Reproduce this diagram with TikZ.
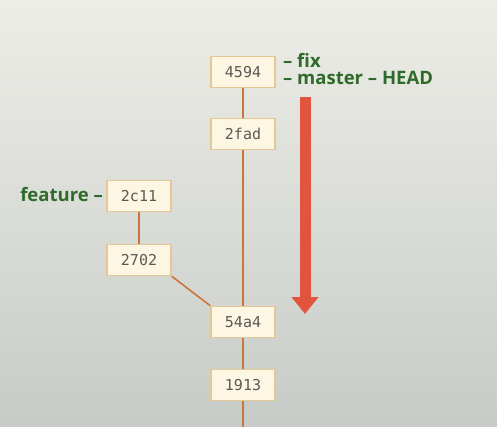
\documentclass[tikz,border=0pt]{standalone}
\usepackage{fontspec}
\setmainfont{Open Sans}
\newfontfamily\hashfont{DejaVu Sans Mono}
\usetikzlibrary{arrows.meta}

\definecolor{bgtop}{HTML}{EDEDE7}
\definecolor{bgbottom}{HTML}{C7CBC7}
\definecolor{boxfill}{HTML}{FDF6E3}
\definecolor{boxline}{HTML}{E3C795}
\definecolor{edgebrown}{HTML}{C8773A}
\definecolor{refgreen}{HTML}{2E6B2A}
\definecolor{arrowred}{HTML}{E1553E}
\definecolor{hashgrey}{HTML}{5A5A55}

\tikzset{
  commit/.style={rectangle, draw=boxline, fill=boxfill, line width=1.6pt,
    minimum width=64pt, minimum height=31pt, inner sep=0pt,
    font=\hashfont\fontsize{15}{17}\selectfont, text=hashgrey},
  branch/.style={font=\bfseries\fontsize{18.5}{20}\selectfont, text=refgreen, inner sep=0pt},
  parent/.style={line width=1.6pt, draw=edgebrown}
}

\begin{document}
\begin{tikzpicture}[x=1pt, y=-1pt]
        \useasboundingbox (0,0) rectangle (497,427);
        \shade[top color=bgtop, bottom color=bgbottom] (0,0) rectangle (497,427);

        % Commits
        \node[commit] (c4594) at (243,72)  {4594};
        \node[commit] (c2fad) at (243,134) {2fad};
        \node[commit] (c2c11) at (139,196) {2c11};
        \node[commit] (c2702) at (139,260) {2702};
        \node[commit] (c54a4) at (243,322) {54a4};
        \node[commit] (c1913) at (243,385) {1913};
        \coordinate (older) at (243,427);

        % Kanter
        \draw[parent] (c4594) -- (c2fad);
        \draw[parent] (c2fad) -- (c54a4);
        \draw[parent] (c2c11) -- (c2702);
        \draw[parent] (c2702.south east) -- (c54a4.north west);
        \draw[parent] (c54a4) -- (c1913);
        \draw[parent] (c1913) -- (older);

        % Grenar
        \node[branch, anchor=base west] (fix) at (283,68) {– f{}ix};
        \node[branch, anchor=base west] (master) at (283,85) {– master – HEAD};
        \node[branch, anchor=base east] (feature) at (103,202) {feature –};

        % Pil
        \coordinate (arrowtop) at (305,97);
        \coordinate (arrowtip) at (305,314);
        \draw[arrowred, line width=11pt, -{Triangle[width=26pt, length=17pt]}] (arrowtop) -- (arrowtip);
    \end{tikzpicture}
\end{document}
